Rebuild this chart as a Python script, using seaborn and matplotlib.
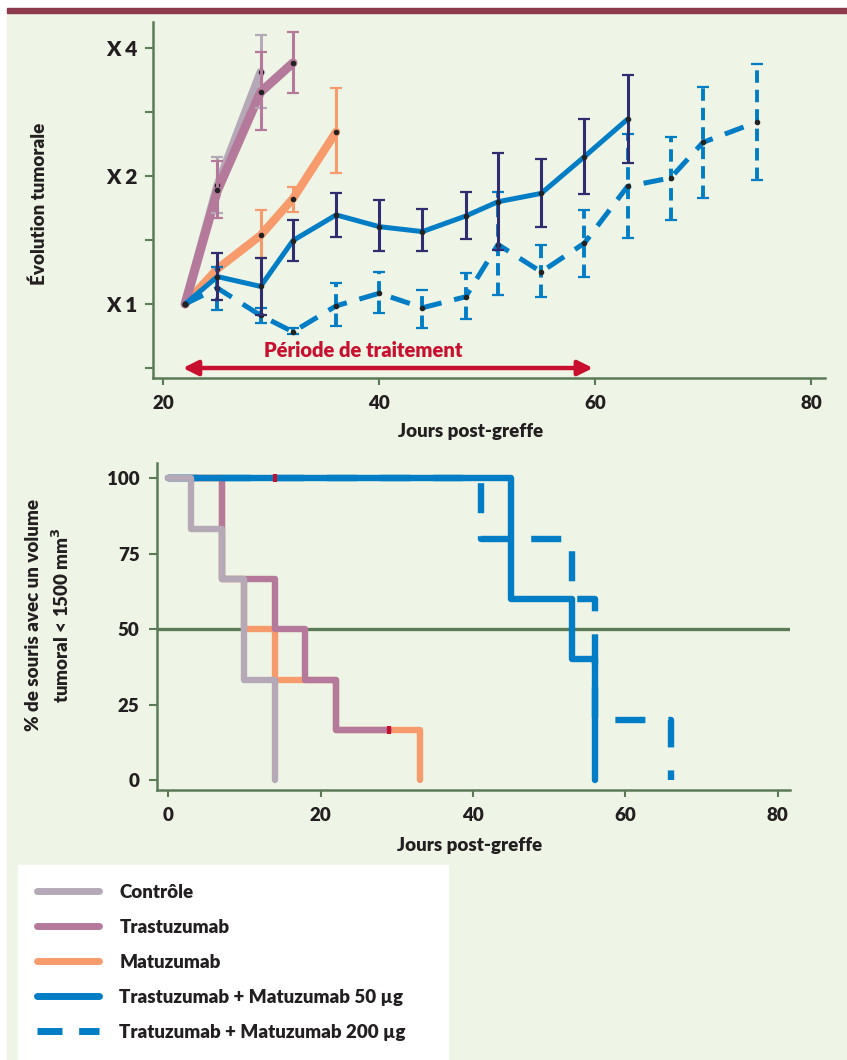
import numpy as np
import seaborn as sns
import matplotlib.pyplot as plt
from matplotlib.lines import Line2D
from matplotlib.patches import Rectangle

# ---- couleurs
FOND = '#eef5e6'
VERT = '#5b7b57'
TEXTE = '#231f20'
ROUGE = '#c8102e'
BORDEAUX = '#8e3a4e'
GRIS = '#b5a9b8'
VIOLET = '#b57a9b'
ORANGE = '#f79a6c'
BLEU = '#007dc5'
MARINE = '#2f2c70'

nan = np.nan

# ---- données : évolution tumorale (haut)
jours_ctrl = [22, 25, 29]
ctrl = [1.0, 1.90, 3.51]
ctrl_haut = [nan, 2.22, 4.29]
ctrl_bas = [nan, 1.64, 2.89]

jours_tras = [22, 25, 29, 32]
tras = [1.0, 1.85, 3.15, 3.69]
tras_haut = [nan, 2.17, 3.91, 4.36]
tras_bas = [nan, 1.59, 2.57, 3.13]

jours_mat = [22, 25, 29, 32, 36]
mat = [1.0, 1.21, 1.45, 1.77, 2.54]
mat_haut = [nan, nan, 1.66, 1.88, 3.22]
mat_bas = [nan, nan, 1.28, 1.65, 2.03]

jours_c50 = [22, 25, 29, 32, 36, 40, 44, 48, 51, 55, 59, 63]
c50 = [1.0, 1.16, 1.10, 1.41, 1.62, 1.52, 1.48, 1.61, 1.74, 1.82, 2.22, 2.72]
c50_haut = [nan, 1.32, 1.28, 1.58, 1.82, 1.76, 1.67, 1.83, 2.26, 2.19, 2.72, 3.46]
c50_bas = [nan, 1.02, 0.94, 1.26, 1.44, 1.33, 1.33, 1.42, 1.34, 1.52, 1.81, 2.15]

jours_c200 = [22, 25, 29, 32, 36, 40, 44, 48, 51, 55, 59, 63, 67, 70, 75]
c200 = [1.0, 1.09, 0.94, 0.86, 0.99, 1.06, 0.98, 1.04, 1.38, 1.19, 1.39, 1.89, 1.98, 2.40, 2.68]
c200_haut = [nan, 1.22, 0.98, 0.88, 1.12, 1.19, 1.08, 1.18, 1.83, 1.38, 1.66, 2.51, 2.47, 3.24, 3.67]
c200_bas = [nan, 0.97, 0.90, 0.85, 0.89, 0.95, 0.88, 0.92, 1.05, 1.04, 1.16, 1.43, 1.58, 1.78, 1.96]

periode = (22, 60)

# ---- données : survie (bas)
t_ctrl = [0, 3, 7, 10, 14]
s_ctrl = [100, 83.3, 66.7, 33.3, 0]
t_tras = [0, 7, 14, 18, 22, 29]
s_tras = [100, 66.7, 50, 33.3, 16.7, 16.7]
t_mat = [0, 7, 10, 14, 22, 33]
s_mat = [100, 66.7, 50, 33.3, 16.7, 0]
t_c50 = [0, 45, 53, 56]
s_c50 = [100, 60, 40, 0]
t_c200 = [0, 41, 53, 56, 66]
s_c200 = [100, 80, 60, 20, 0]
t_censure = [14, 29]
s_censure = [100, 16.7]

noms = ['Contrôle', 'Trastuzumab', 'Matuzumab',
        'Trastuzumab + Matuzumab 50 µg', 'Tratuzumab + Matuzumab 200 µg']

sns.set_theme(style='ticks')
plt.rcParams['font.family'] = ['Lato', 'DejaVu Sans']
plt.rcParams['font.weight'] = 'heavy'
plt.rcParams['axes.labelweight'] = 'heavy'

W, H = 847, 1060
fig = plt.figure(figsize=(W / 100, H / 100), dpi=100)
fig.patch.set_facecolor('white')
fig.add_artist(Rectangle((7 / W, 0), 1, 1 - 13 / H, transform=fig.transFigure,
                         color=FOND, zorder=-10))
fig.add_artist(Rectangle((7 / W, 1 - 13 / H), 1, 5 / H, transform=fig.transFigure,
                         color=BORDEAUX, zorder=-9))

TIRETS = (0, (4, 2.6))
TIRETS_BARRE = (0, (3.2, 1.8))


def style_axes(ax):
    ax.set_facecolor('none')
    sns.despine(ax=ax)
    for s in ['left', 'bottom']:
        ax.spines[s].set_color(VERT)
        ax.spines[s].set_linewidth(1.8)
    ax.tick_params(colors=VERT, labelcolor=TEXTE, width=1.5, labelsize=13.5)


# ---------------- graphique du haut
ax1 = fig.add_axes([153 / W, 1 - 378 / H, 672 / W, 356 / H])
style_axes(ax1)

courbes = [
    (jours_mat, mat, mat_haut, mat_bas, ORANGE, 6.0, '-', ORANGE, 2.2),
    (jours_ctrl, ctrl, ctrl_haut, ctrl_bas, GRIS, 6.0, '-', GRIS, 2.2),
    (jours_tras, tras, tras_haut, tras_bas, VIOLET, 6.5, '-', VIOLET, 2.2),
    (jours_c200, c200, c200_haut, c200_bas, BLEU, 3.6, TIRETS, BLEU, 2.8),
    (jours_c50, c50, c50_haut, c50_bas, BLEU, 3.6, '-', MARINE, 2.2),
]
for i, (x, y, hi, lo, col, lw, ls, ecol, elw) in enumerate(courbes):
    sns.lineplot(x=x, y=y, ax=ax1, color=col, lw=lw, linestyle=ls,
                 solid_joinstyle='round', zorder=2 + i)
    y_ = np.array(y)
    err = [y_ - np.array(lo), np.array(hi) - y_]
    eb = ax1.errorbar(x, y, yerr=err, fmt='o', ms=3, mfc='#222222', mec='#222222',
                      ecolor=ecol, elinewidth=elw, capsize=4, capthick=1.6,
                      zorder=8 + i)
    for cap in eb[1]:
        cap.set_color('#222222')
    if ls != '-':
        eb[2][0].set_linestyle(TIRETS_BARRE)

ax1.set_yscale('log', base=2)
ax1.set_ylim(2 ** -0.578, 2 ** 2.203)
ax1.set_xlim(19.03, 81.3)
ax1.set_yticks([2 ** -0.5, 1, 2 ** 0.5, 2, 2 ** 1.5, 4])
ax1.set_yticklabels(['', 'X 1', '', 'X 2', '', 'X 4'])
ax1.yaxis.set_minor_locator(plt.NullLocator())
ax1.set_xticks([20, 40, 60, 80])
ax1.tick_params(axis='y', length=5.5, pad=6, labelsize=15)
ax1.tick_params(axis='x', length=5, pad=7)

ax1.annotate('', xy=(periode[0] - 0.2, 2 ** -0.5), xytext=(periode[1] - 0.2, 2 ** -0.5),
             arrowprops=dict(arrowstyle='<|-|>', color=ROUGE, lw=3.2,
                             mutation_scale=22, shrinkA=0, shrinkB=0))
ax1.text(38.5, 2 ** -0.36, 'Période de traitement', color=ROUGE, fontsize=14.5,
         fontweight='heavy', ha='center', va='center')

ax1.set_ylabel('Évolution tumorale', fontsize=13.5, color=TEXTE)
ax1.yaxis.set_label_coords(-0.156, 0.49)
ax1.set_xlabel('Jours post-greffe', fontsize=13.5, color=TEXTE)
ax1.xaxis.set_label_coords(0.472, -0.126)

# ---------------- graphique du bas
ax2 = fig.add_axes([157 / W, 1 - 790 / H, 633 / W, 327 / H])
style_axes(ax2)
ax2.axhline(50, color=VERT, lw=2.4, zorder=1)

survie = [
    (t_mat, s_mat, ORANGE, '-'),
    (t_tras, s_tras, VIOLET, '-'),
    (t_c200, s_c200, BLEU, (0, (4.7, 3.6))),
    (t_c50, s_c50, BLEU, '-'),
    (t_ctrl, s_ctrl, GRIS, '-'),
]
for i, (x, y, col, ls) in enumerate(survie):
    sns.lineplot(x=x, y=y, ax=ax2, color=col, lw=4.6, linestyle=ls,
                 drawstyle='steps-post', solid_joinstyle='round', zorder=3 + i)
sns.scatterplot(x=t_censure, y=s_censure, ax=ax2, color=ROUGE, marker='|',
                s=40, linewidth=3, zorder=10)

ax2.set_xlim(-1.48, 81.6)
ax2.set_ylim(-3.31, 105.07)
ax2.set_xticks([0, 20, 40, 60, 80])
ax2.set_yticks([0, 25, 50, 75, 100])
ax2.tick_params(axis='y', length=5.5, pad=7)
ax2.tick_params(axis='x', length=5, pad=7)
ax2.set_ylabel('% de souris avec un volume\ntumoral < 1500 mm$^3$', fontsize=13.5,
               color=TEXTE, linespacing=1.45)
ax2.yaxis.set_label_coords(-0.134, 0.535)
ax2.set_xlabel('Jours post-greffe', fontsize=13.5, color=TEXTE)
ax2.xaxis.set_label_coords(0.493, -0.144)

# ---------------- légende
poignees = [
    Line2D([], [], color=GRIS, lw=5),
    Line2D([], [], color=VIOLET, lw=5),
    Line2D([], [], color=ORANGE, lw=5),
    Line2D([], [], color=BLEU, lw=5),
    Line2D([], [], color=BLEU, lw=5, linestyle=(0, (3.6, 2.4))),
]
leg = fig.legend(poignees, noms, loc='upper left',
                 bbox_to_anchor=(18 / W, 5 / H, 430 / W, 190 / H), mode='expand',
                 frameon=True, fancybox=False, facecolor='white', edgecolor='white',
                 framealpha=1, fontsize=13.5, handlelength=3.3, handletextpad=1.1,
                 labelspacing=0.96, borderpad=1.0, borderaxespad=0)
for t in leg.get_texts():
    t.set_color(TEXTE)
    t.set_fontweight('heavy')

fig.savefig('out.png', dpi=100, facecolor=fig.get_facecolor())
